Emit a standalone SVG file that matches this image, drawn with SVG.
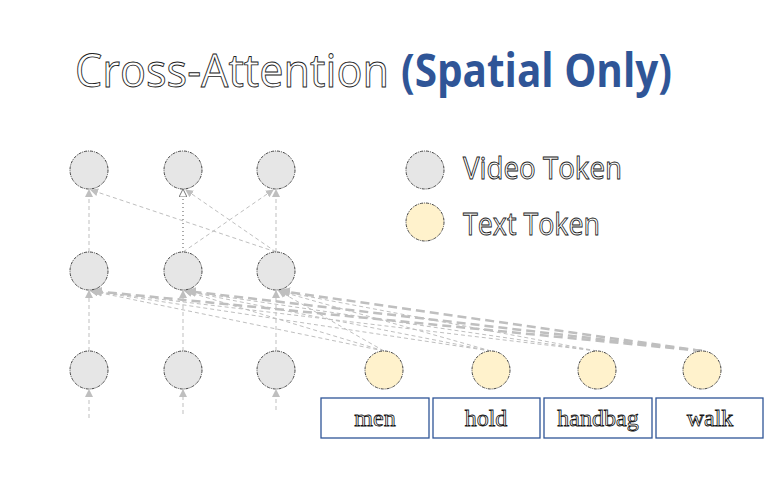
<svg xmlns="http://www.w3.org/2000/svg" width="768" height="480" viewBox="0 0 768 480">
<style>
.vt{fill:#e6e6e6;stroke:#444;stroke-width:1;stroke-dasharray:3 1 1 1}
.tt{fill:#fff2cc;stroke:#444;stroke-width:1;stroke-dasharray:3 1 1 1}
.ln{fill:none;stroke:#bfbfbf;stroke-width:1;stroke-dasharray:4 3}
.thick{stroke:#bfbfbf;stroke-width:2.5;stroke-dasharray:9 5}
.dot{stroke:#555;stroke-dasharray:1 3}
.box{fill:#fff;stroke:#2f5597;stroke-width:1.3}
.out{fill:#fff;stroke:#222;stroke-width:0.9;font-family:"Open Sans","Noto Sans",sans-serif}
.word{fill:#fff;stroke:#111;stroke-width:0.8;font-family:"Liberation Serif",serif;font-size:24px;text-anchor:middle}
</style>
<defs>
<marker id="ah" markerWidth="8" markerHeight="8" refX="7" refY="4" orient="auto" markerUnits="userSpaceOnUse">
<path d="M0,0 L8,4 L0,8 z" fill="#bfbfbf"/>
</marker>
<marker id="ahw" markerWidth="10" markerHeight="10" refX="9" refY="5" orient="auto" markerUnits="userSpaceOnUse">
<path d="M0,0 L10,5 L0,10 z" fill="#bfbfbf"/>
</marker>
<marker id="aho" markerWidth="8" markerHeight="8" refX="7" refY="4" orient="auto" markerUnits="userSpaceOnUse">
<path d="M0,0 L8,4 L0,8 z" fill="#fff" stroke="#555" stroke-width="0.8"/>
</marker>
</defs>
<g id="title">
<text x="75" y="87" class="out" font-size="46" textLength="314" lengthAdjust="spacingAndGlyphs">Cross-Attention</text>
<text x="401" y="87" font-family="'Open Sans','Noto Sans',sans-serif" font-weight="bold" font-size="46" fill="#2f5597" textLength="271" lengthAdjust="spacingAndGlyphs">(Spatial Only)</text>
</g>
<g id="connectors">
<line class="ln" x1="89" y1="418" x2="89" y2="390" marker-end="url(#ah)"/>
<line class="ln" x1="183" y1="414" x2="183" y2="390" marker-end="url(#ah)"/>
<line class="ln" x1="276" y1="410" x2="276" y2="390" marker-end="url(#ah)"/>
<line class="ln" x1="89" y1="351" x2="89" y2="291" marker-end="url(#ah)"/>
<line class="ln" x1="183" y1="351" x2="183" y2="291" marker-end="url(#ah)"/>
<line class="ln" x1="276" y1="351" x2="276" y2="291" marker-end="url(#ah)"/>
<line class="ln" x1="384" y1="351" x2="91" y2="291" marker-end="url(#ah)"/>
<line class="ln" x1="384" y1="351" x2="185" y2="291" marker-end="url(#ah)"/>
<line class="ln" x1="384" y1="351" x2="279" y2="291" marker-end="url(#ah)"/>
<line class="ln" x1="491" y1="351" x2="91" y2="291" marker-end="url(#ah)"/>
<line class="ln" x1="491" y1="351" x2="185" y2="291" marker-end="url(#ah)"/>
<line class="ln" x1="491" y1="351" x2="279" y2="291" marker-end="url(#ah)"/>
<line class="ln" x1="597" y1="351" x2="91" y2="291" marker-end="url(#ah)"/>
<line class="ln" x1="597" y1="351" x2="185" y2="291" marker-end="url(#ah)"/>
<line class="ln" x1="597" y1="351" x2="279" y2="291" marker-end="url(#ah)"/>
<line class="ln thick" x1="702" y1="351" x2="93" y2="291" marker-end="url(#ahw)"/>
<line class="ln thick" x1="702" y1="351" x2="187" y2="291" marker-end="url(#ahw)"/>
<line class="ln thick" x1="702" y1="351" x2="281" y2="291" marker-end="url(#ahw)"/>
<line class="ln" x1="89" y1="252" x2="89" y2="190" marker-end="url(#ah)"/>
<line class="ln dot" x1="183" y1="252" x2="183" y2="190" marker-end="url(#aho)"/>
<line class="ln" x1="276" y1="252" x2="276" y2="190" marker-end="url(#ah)"/>
<line class="ln" x1="276" y1="252" x2="91" y2="190" marker-end="url(#ah)"/>
<line class="ln" x1="276" y1="252" x2="186" y2="190" marker-end="url(#ah)"/>
<line class="ln" x1="183" y1="252" x2="273" y2="190" marker-end="url(#ah)"/>
</g>
<g id="v-top-1"><circle class="vt" cx="89" cy="170" r="19"/></g>
<g id="v-top-2"><circle class="vt" cx="183" cy="170" r="19"/></g>
<g id="v-top-3"><circle class="vt" cx="276" cy="170" r="19"/></g>
<g id="v-mid-1"><circle class="vt" cx="89" cy="271" r="19"/></g>
<g id="v-mid-2"><circle class="vt" cx="183" cy="271" r="19"/></g>
<g id="v-mid-3"><circle class="vt" cx="276" cy="271" r="19"/></g>
<g id="v-bot-1"><circle class="vt" cx="89" cy="370" r="19"/></g>
<g id="v-bot-2"><circle class="vt" cx="183" cy="370" r="19"/></g>
<g id="v-bot-3"><circle class="vt" cx="276" cy="370" r="19"/></g>
<g id="t-men"><circle class="tt" cx="384" cy="370" r="19"/><rect class="box" x="321" y="398" width="108" height="40"/><text class="word" x="375" y="426">men</text></g>
<g id="t-hold"><circle class="tt" cx="491" cy="370" r="19"/><rect class="box" x="433" y="398" width="107" height="40"/><text class="word" x="486" y="426">hold</text></g>
<g id="t-handbag"><circle class="tt" cx="597" cy="370" r="19"/><rect class="box" x="544" y="398" width="108" height="40"/><text class="word" x="598" y="426">handbag</text></g>
<g id="t-walk"><circle class="tt" cx="702" cy="370" r="19"/><rect class="box" x="656" y="398" width="107" height="40"/><text class="word" x="710" y="426">walk</text></g>
<g id="legend-video"><circle class="vt" cx="425" cy="170" r="19"/><text class="out" x="463" y="179" font-size="31" textLength="159" lengthAdjust="spacingAndGlyphs">Video Token</text></g>
<g id="legend-text"><circle class="tt" cx="425" cy="222" r="19"/><text class="out" x="463" y="235" font-size="31" textLength="137" lengthAdjust="spacingAndGlyphs">Text Token</text></g>
</svg>
